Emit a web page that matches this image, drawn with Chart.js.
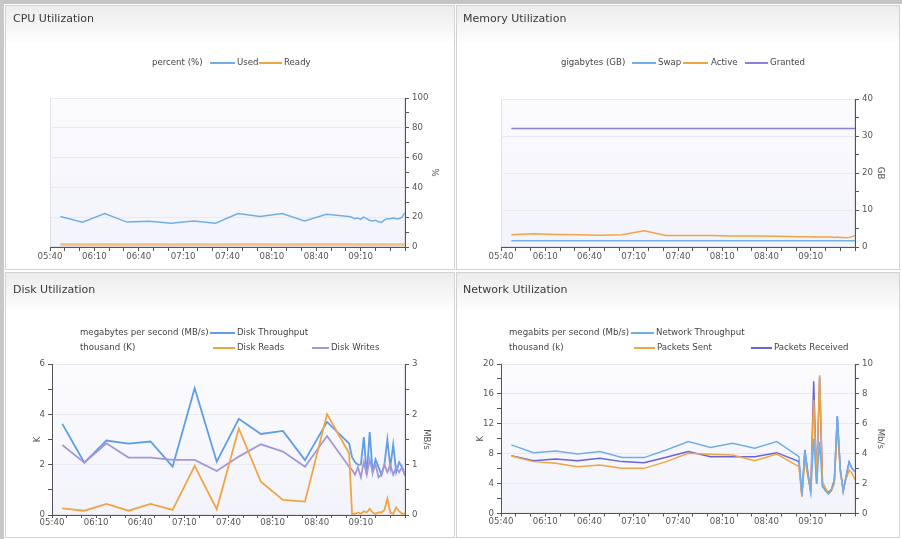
<!DOCTYPE html>
<html><head><meta charset="utf-8">
<script src="https://cdn.jsdelivr.net/npm/chart.js@4.4.0/dist/chart.umd.min.js"></script>
<style>
html,body{margin:0;padding:0;background:#fff;}
body{width:902px;height:539px;position:relative;overflow:hidden;font-family:"DejaVu Sans",sans-serif;}
.frame{position:absolute;left:0;top:0;width:902px;height:539px;box-sizing:border-box;border-top:4px solid #c4c4c4;border-left:4px solid #c8c8c8;}
.panel{position:absolute;background:#fff;border:1px solid #d2d2d2;box-sizing:border-box;overflow:hidden;}
.panel .hdr{position:absolute;left:0;top:0;right:0;height:36px;background:linear-gradient(#ececec,#fdfdfd);}
.title{position:absolute;font-size:11px;color:#3a3a3a;line-height:14px;white-space:nowrap;}
.lg{position:absolute;font-size:8.6px;color:#444;white-space:nowrap;line-height:12px;}
.mk{position:absolute;height:1.5px;}
canvas{position:absolute;}
</style>
</head><body>
<div class="frame"></div>
<div class="panel" style="left:5px;top:5px;width:450px;height:265px"><div class="hdr"></div></div>
<div class="panel" style="left:456px;top:5px;width:444px;height:265px"><div class="hdr"></div></div>
<div class="panel" style="left:5px;top:272px;width:450px;height:266px"><div class="hdr"></div></div>
<div class="panel" style="left:456px;top:272px;width:444px;height:266px"><div class="hdr"></div></div>
<canvas id="c1" width="451" height="270" style="left:0;top:0"></canvas>
<canvas id="c2" width="451" height="270" style="left:451px;top:0"></canvas>
<canvas id="c3" width="451" height="269" style="left:0;top:270px"></canvas>
<canvas id="c4" width="451" height="269" style="left:451px;top:270px"></canvas>
<div id="texts"></div>
<script>
// ---------- data ----------
const panelTitles = ['CPU Utilization','Memory Utilization','Disk Utilization','Network Utilization'];
const xTickLabels = ['05:40','06:10','06:40','07:10','07:40','08:10','08:40','09:10'];
// minutes after 05:40
const sampleMinutes = [7,22,37,52,67,82,97,112,127,142,157,172,187,202,
  204,206,208,210,212,214,216,218,220,222,224,226,228,230,232,234,236,238,240];

const cpuUnit = 'percent (%)';
const cpuNames = ['Used','Ready'];
const cpuUsed  = [20.5,16.7,22.4,16.7,17.2,16.0,17.4,16.0,22.4,20.5,22.4,17.4,21.9,20.5,
  20,19,19.5,18.5,20,19,18,17.5,18,17,16.5,18,19,19,19.5,19,19,20,23];
const cpuReady = [1.6,1.5,1.7,1.5,1.6,1.5,1.6,1.5,1.7,1.6,1.5,1.6,1.7,1.6,
  1.6,1.5,1.7,1.6,1.5,1.6,1.7,1.5,1.6,1.5,1.6,1.7,1.5,1.6,1.6,1.5,1.7,1.6,1.6];

const memUnit = 'gigabytes (GB)';
const memNames = ['Swap','Active','Granted'];
const memSwap    = [1.7,1.7,1.7,1.7,1.7,1.7,1.7,1.7,1.7,1.7,1.7,1.7,1.7,1.7,
  1.7,1.7,1.7,1.7,1.7,1.7,1.7,1.7,1.7,1.7,1.7,1.7,1.7,1.7,1.7,1.7,1.7,1.7,1.7];
const memActive  = [3.3,3.6,3.4,3.3,3.2,3.3,4.4,3.1,3.1,3.1,3.0,3.0,2.9,2.8,
  2.8,2.8,2.8,2.7,2.8,2.7,2.7,2.7,2.7,2.7,2.7,2.6,2.7,2.6,2.6,2.5,2.6,2.8,3.1];
const memGranted = [32,32,32,32,32,32,32,32,32,32,32,32,32,32,
  32,32,32,32,32,32,32,32,32,32,32,32,32,32,32,32,32,32,32];

const diskUnits = ['megabytes per second (MB/s)','thousand (K)'];
const diskNames = ['Disk Throughput','Disk Reads','Disk Writes'];
const diskThroughput = [1.81,1.04,1.48,1.42,1.46,0.96,2.52,1.06,1.91,1.61,1.67,1.09,1.85,1.42,
  1.15,1.05,1.0,1.0,1.55,0.8,1.65,0.85,1.1,0.95,0.8,1.0,1.5,0.95,1.4,0.85,1.05,0.95,0.8];
const diskReads = [0.26,0.17,0.44,0.17,0.44,0.2,1.95,0.23,3.44,1.32,0.6,0.53,4.01,2.45,
  0.05,0.05,0.1,0.05,0.15,0.1,0.25,0.1,0.05,0.1,0.1,0.2,0.65,0.1,0.05,0.3,0.15,0.05,0.05];
const diskWrites = [2.78,2.08,2.85,2.28,2.28,2.19,2.19,1.75,2.32,2.81,2.52,1.92,3.14,1.92,
  1.8,1.6,1.9,1.5,2.1,1.6,2.2,1.7,2.0,1.5,1.6,2.0,1.7,2.0,1.6,1.9,1.7,1.9,1.55];

const netUnits = ['megabits per second (Mb/s)','thousand (k)'];
const netNames = ['Network Throughput','Packets Sent','Packets Received'];
const netThroughput = [4.59,4.07,4.18,3.98,4.14,3.74,3.74,4.25,4.81,4.41,4.70,4.36,4.81,3.8,
  1.2,4.2,2.7,1.4,5.0,2.0,4.8,1.8,1.5,1.3,1.6,2.2,6.5,3.0,1.5,2.5,3.4,3.0,2.8];
const netSent = [7.7,6.94,6.71,6.26,6.49,6.04,6.04,6.94,8.05,7.92,7.83,7.07,7.96,6.26,
  2.2,7.2,5.0,3.0,15.2,4.5,18.5,4.2,3.4,2.6,3.0,4.0,11.6,5.5,3.2,4.6,5.8,5.4,4.5];
const netReceived = [7.74,7.07,7.29,7.07,7.38,6.94,6.8,7.52,8.28,7.6,7.6,7.6,8.14,6.94,
  2.4,8.5,5.5,2.9,17.7,4.0,18.3,3.6,3.2,2.8,3.2,4.5,13.0,6.0,3.0,5.0,6.9,6.0,5.6];

// ---------- styles ----------
const C_BLUE = '#72aee6', C_ORANGE = '#f0a545', C_PURPLE = '#8c7fd6';
const C_BLUE2 = '#5f9de6', C_PURPLE2 = '#a497d8', C_PURPLE3 = '#6a64d4';
const FONT = {family:'DejaVu Sans', size:8.6};
const AXIS = '#555';

function pts(vals){ return sampleMinutes.map((m,i)=>({x:m, y:vals[i]})); }

const plotBg = {
  id:'plotBg',
  beforeDraw(chart){
    const {ctx, chartArea:{left,top,right,bottom}} = chart;
    ctx.save();
    const g = ctx.createLinearGradient(0, top, 0, bottom);
    g.addColorStop(0,'#fbfbfe'); g.addColorStop(1,'#f3f4fb');
    ctx.fillStyle = g; ctx.fillRect(left, top, right-left, bottom-top);
    ctx.strokeStyle = '#e0e0e6'; ctx.lineWidth = 1;
    ctx.strokeRect(left+0.5, top+0.5, right-left-1, bottom-top-1);
    ctx.restore();
  }
};

function xAxis(h, pad, tl){
  return {
    type:'linear', min:0, max:240, position:'bottom',
    afterFit: s => { s.height = h; },
    border:{display:true, color:AXIS, width:1},
    grid:{drawOnChartArea:false, drawTicks:true, tickLength:tl, color:AXIS},
    ticks:{stepSize:10, maxTicksLimit:100, autoSkip:false, maxRotation:0, minRotation:0, padding:pad,
      color:AXIS, font:FONT,
      callback: v => (v % 30 === 0 && v < 240) ? xTickLabels[v/30] : ''}
  };
}
function yAxis(pos, max, step, labelEvery, width, title){
  return {
    type:'linear', position:pos, min:0, max:max,
    afterFit: s => { s.width = width; },
    border:{display:true, color:AXIS, width:1},
    grid:{drawTicks:true, tickLength:4, tickColor:AXIS,
      drawOnChartArea: pos === 'right',
      color: ctx => (ctx.tick && Math.abs(ctx.tick.value/labelEvery - Math.round(ctx.tick.value/labelEvery))<1e-6 && ctx.tick.value>0) ? '#e8e9f1' : 'rgba(0,0,0,0)'},
    ticks:{stepSize:step, maxTicksLimit:100, autoSkip:false, padding:3, color:AXIS, font:FONT,
      callback: v => (Math.abs(v/labelEvery - Math.round(v/labelEvery))<1e-6) ? String(v) : ''},
    title:{display:!!title, text:title, color:AXIS, font:FONT, padding:{top:4,bottom:4}}
  };
}
function line(label, vals, color, w, axis){
  return {label, data:pts(vals), borderColor:color, backgroundColor:color, borderWidth:w,
    pointRadius:0, tension:0, fill:false, yAxisID:axis};
}
function base(datasets, scales, padding){
  return {type:'line', data:{datasets}, plugins:[plotBg],
    options:{responsive:false, animation:false, devicePixelRatio:1,
      layout:{padding},
      plugins:{legend:{display:false}, tooltip:{enabled:false}, title:{display:false}},
      scales}};
}

// CPU
new Chart(document.getElementById('c1'), base(
  [line(cpuNames[1], cpuReady, '#f5c28c', 3, 'y'),
   line(cpuNames[0], cpuUsed, C_BLUE, 1.5, 'y')],
  {x:xAxis(20,1,4), y:yAxis('right',100,10,20,38,'%')},
  {left:50, right:8, top:98, bottom:3}));

// Memory
new Chart(document.getElementById('c2'), base(
  [line(memNames[0], memSwap, C_BLUE, 1.5, 'y'),
   line(memNames[1], memActive, C_ORANGE, 1.5, 'y'),
   line(memNames[2], memGranted, C_PURPLE, 1.5, 'y')],
  {x:xAxis(20,1,4), y:yAxis('right',40,5,10,34,'GB')},
  {left:50, right:13, top:99, bottom:3}));

// Disk
new Chart(document.getElementById('c3'), base(
  [line(diskNames[1], diskReads, C_ORANGE, 1.8, 'y'),
   line(diskNames[2], diskWrites, C_PURPLE2, 1.8, 'y'),
   line(diskNames[0], diskThroughput, C_BLUE2, 1.8, 'y2')],
  {x:xAxis(20,0,3), y:yAxis('left',6,1,2,23,'K'), y2:yAxis('right',3,0.5,1,30,'MB/s')},
  {left:29, right:16, top:94, bottom:4}));

// Network
new Chart(document.getElementById('c4'), base(
  [line(netNames[0], netThroughput, C_BLUE, 1.5, 'y2'),
   line(netNames[1], netSent, C_ORANGE, 1.5, 'y'),
   line(netNames[2], netReceived, C_PURPLE3, 1.5, 'y')],
  {x:xAxis(20,0,3), y:yAxis('left',20,2,4,29,'K'), y2:yAxis('right',10,1,2,34,'Mb/s')},
  {left:21, right:13, top:94, bottom:5.5}));

// ---------- titles & legends (HTML text) ----------
const host = document.getElementById('texts');
function txt(cls, x, yc, s){
  const d = document.createElement('div'); d.className = cls; d.textContent = s;
  d.style.left = x + 'px'; d.style.top = (yc - (cls==='title'?7:6)) + 'px';
  host.appendChild(d);
}
function mk(x1, x2, yc, color){
  const d = document.createElement('div'); d.className = 'mk';
  d.style.left = x1 + 'px'; d.style.width = (x2 - x1) + 'px'; d.style.top = yc + 'px';
  d.style.background = color; host.appendChild(d);
}
txt('title', 13, 19, panelTitles[0]);
txt('title', 463, 19, panelTitles[1]);
txt('title', 13, 290, panelTitles[2]);
txt('title', 463, 290, panelTitles[3]);

txt('lg', 152, 62, cpuUnit);
mk(210, 235, 62, C_BLUE); txt('lg', 237, 62, cpuNames[0]);
mk(259, 282, 62, C_ORANGE); txt('lg', 284, 62, cpuNames[1]);

txt('lg', 561, 62, memUnit);
mk(632, 656, 62, C_BLUE); txt('lg', 658, 62, memNames[0]);
mk(683, 708, 62, C_ORANGE); txt('lg', 711, 62, memNames[1]);
mk(745, 768, 62, C_PURPLE); txt('lg', 770, 62, memNames[2]);

txt('lg', 80, 332, diskUnits[0]);
mk(210, 235, 332, C_BLUE2); txt('lg', 237, 332, diskNames[0]);
txt('lg', 80, 347, diskUnits[1]);
mk(213, 235, 347, C_ORANGE); txt('lg', 237, 347, diskNames[1]);
mk(312, 329, 347, C_PURPLE2); txt('lg', 331, 347, diskNames[2]);

txt('lg', 509, 332, netUnits[0]);
mk(631, 654, 332, C_BLUE); txt('lg', 656, 332, netNames[0]);
txt('lg', 509, 347, netUnits[1]);
mk(634, 655, 347, C_ORANGE); txt('lg', 657, 347, netNames[1]);
mk(751, 772, 347, C_PURPLE3); txt('lg', 774, 347, netNames[2]);
</script>
</body></html>
